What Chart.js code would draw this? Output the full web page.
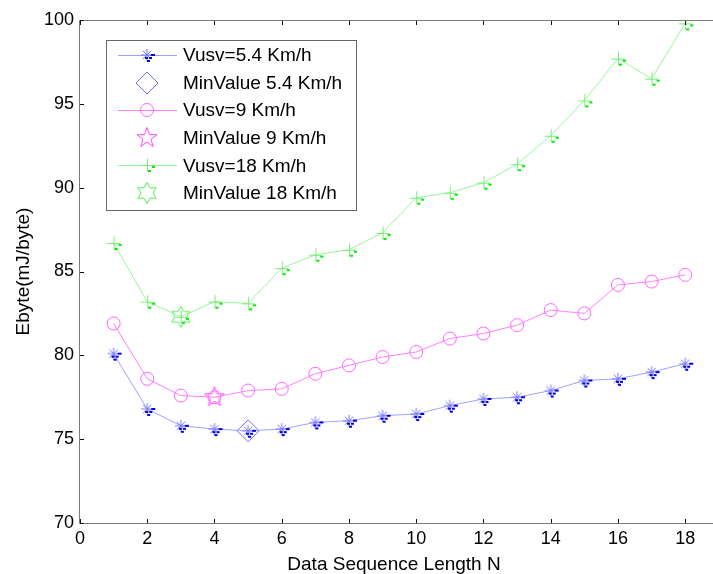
<!DOCTYPE html>
<html>
<head>
<meta charset="utf-8">
<script src="https://cdn.jsdelivr.net/npm/chart.js@4/dist/chart.umd.min.js"></script>
<style>
  html, body { margin: 0; padding: 0; background: #fff; overflow: hidden; }
  #wrap { width: 713px; height: 574px; position: relative; }
</style>
</head>
<body>
<div id="wrap"><canvas id="energyChart"></canvas></div>
<script>
// data
const seqLength = [1, 2, 3, 4, 5, 6, 7, 8, 9, 10, 11, 12, 13, 14, 15, 16, 17, 18];
const ebyte54 = [80.1, 76.8, 75.8, 75.6, 75.5, 75.6, 76.0, 76.1, 76.4, 76.5, 77.0, 77.4, 77.5, 77.9, 78.5, 78.6, 79.0, 79.5];
const ebyte9 = [81.9, 78.6, 77.6, 77.5, 77.9, 78.0, 78.9, 79.4, 79.9, 80.2, 81.0, 81.3, 81.8, 82.7, 82.5, 84.2, 84.4, 84.8];
const ebyte18 = [86.7, 83.2, 82.3, 83.2, 83.1, 85.2, 86.0, 86.3, 87.3, 89.4, 89.7, 90.3, 91.4, 93.1, 95.2, 97.7, 96.5, 99.8];
const minX = [5, 4, 3];
const minY = [75.5, 77.5, 82.3];
const seriesLabels = ["Vusv=5.4 Km/h", "MinValue 5.4 Km/h", "Vusv=9 Km/h", "MinValue 9 Km/h", "Vusv=18 Km/h", "MinValue 18 Km/h"];
const xTicks = [0, 2, 4, 6, 8, 10, 12, 14, 16, 18];
const yTicks = [70, 75, 80, 85, 90, 95, 100];

const FONT = "Arial, 'Liberation Sans', sans-serif";

// marker images (matlab style)
function markerCanvas(size, draw) {
  let c = document.createElement("canvas");
  c.width = size;
  c.height = size;
  let g = c.getContext("2d");
  draw(g, size / 2);
  return c;
}

let asteriskImg = markerCanvas(24, (g, c) => {
  g.strokeStyle = "#7777ff";
  g.lineWidth = 1;
  g.beginPath();
  for (let k = 0; k < 4; k++) {
    let a = k * Math.PI / 4;
    g.moveTo(c - 6 * Math.cos(a), c - 6 * Math.sin(a));
    g.lineTo(c + 6 * Math.cos(a), c + 6 * Math.sin(a));
  }
  g.stroke();
  g.fillStyle = "#0000e6";
  g.fillRect(c + 4, c - 1, 4, 2);
  g.fillRect(c - 2, c + 2, 3, 2);
  g.fillRect(c + 2, c + 2, 3, 2);
  g.fillRect(c, c + 5, 3, 2);
});

let plusImg = markerCanvas(24, (g, c) => {
  g.strokeStyle = "#77ee77";
  g.lineWidth = 1;
  g.beginPath();
  g.moveTo(c - 6.5, c + 0.5);
  g.lineTo(c + 6.5, c + 0.5);
  g.moveTo(c + 0.5, c - 6.5);
  g.lineTo(c + 0.5, c + 6.5);
  g.stroke();
  g.fillStyle = "#00ee00";
  g.fillRect(c + 5, c + 1, 3, 2);
  g.fillRect(c + 1, c + 5, 3, 2);
});

function starPath(g, c, n, rOut, rIn) {
  g.beginPath();
  for (let k = 0; k < n * 2; k++) {
    let r = k % 2 === 0 ? rOut : rIn;
    let a = -Math.PI / 2 + k * Math.PI / n;
    let px = c + r * Math.cos(a);
    let py = c + r * Math.sin(a);
    if (k === 0) g.moveTo(px, py);
    else g.lineTo(px, py);
  }
  g.closePath();
}

let pentaImg = markerCanvas(26, (g, c) => {
  g.strokeStyle = "#ff44ff";
  g.lineWidth = 1;
  starPath(g, c, 5, 10.5, 4.2);
  g.stroke();
});

let hexaImg = markerCanvas(26, (g, c) => {
  g.strokeStyle = "#55ee55";
  g.lineWidth = 1;
  starPath(g, c, 6, 10.5, 6);
  g.stroke();
});

function toPoints(xs, ys) {
  return xs.map((x, i) => ({ x: x, y: ys[i] }));
}

const datasets = [
  {
    label: seriesLabels[0],
    data: toPoints(seqLength, ebyte54),
    borderColor: "#a0a0ff",
    borderWidth: 1,
    pointStyle: asteriskImg,
    showLine: true,
  },
  {
    label: seriesLabels[1],
    data: toPoints([minX[0]], [minY[0]]),
    borderColor: "#6a6aff",
    borderWidth: 1,
    pointStyle: "rectRot",
    pointRadius: 11,
    pointBackgroundColor: "rgba(0,0,0,0)",
    showLine: false,
  },
  {
    label: seriesLabels[2],
    data: toPoints(seqLength, ebyte9),
    borderColor: "#ff80ff",
    borderWidth: 1,
    pointStyle: "circle",
    pointRadius: 6.5,
    pointBorderColor: "#ff66ff",
    pointBackgroundColor: "rgba(0,0,0,0)",
    showLine: true,
  },
  {
    label: seriesLabels[3],
    data: toPoints([minX[1]], [minY[1]]),
    borderColor: "#ff44ff",
    pointStyle: pentaImg,
    showLine: false,
  },
  {
    label: seriesLabels[4],
    data: toPoints(seqLength, ebyte18),
    borderColor: "#99f599",
    borderWidth: 1,
    pointStyle: plusImg,
    showLine: true,
  },
  {
    label: seriesLabels[5],
    data: toPoints([minX[2]], [minY[2]]),
    borderColor: "#55ee55",
    pointStyle: hexaImg,
    showLine: false,
  },
];

// frame, inward ticks, axis titles and the boxed legend
const matlabLook = {
  id: "matlabLook",
  afterDraw(chart) {
    let ctx = chart.ctx;
    let a = chart.chartArea;
    let xs = chart.scales.x;
    let ys = chart.scales.y;
    ctx.save();

    // the axes box runs off the right edge of the picture
    ctx.strokeStyle = "#7a7a7a";
    ctx.lineWidth = 1;
    ctx.beginPath();
    ctx.moveTo(Math.round(a.left) - 0.5, Math.round(a.top) + 0.5);
    ctx.lineTo(Math.round(a.left) - 0.5, Math.round(a.bottom) + 0.5);
    ctx.lineTo(chart.width, Math.round(a.bottom) + 0.5);
    ctx.moveTo(Math.round(a.left) - 0.5, Math.round(a.top) + 0.5);
    ctx.lineTo(chart.width, Math.round(a.top) + 0.5);
    ctx.stroke();

    ctx.strokeStyle = "#111";
    ctx.beginPath();
    xTicks.forEach((t) => {
      let px = Math.round(xs.getPixelForValue(t)) + 0.5;
      ctx.moveTo(px, a.bottom);
      ctx.lineTo(px, a.bottom - 4);
      ctx.moveTo(px, a.top + 1);
      ctx.lineTo(px, a.top + 5);
    });
    yTicks.forEach((t) => {
      let py = Math.round(ys.getPixelForValue(t)) + 0.5;
      ctx.moveTo(a.left, py);
      ctx.lineTo(a.left + 4, py);
    });
    ctx.stroke();

    // axis titles
    ctx.fillStyle = "#000";
    ctx.font = "19px " + FONT;
    ctx.textAlign = "center";
    ctx.textBaseline = "middle";
    ctx.fillText("Data Sequence Length N", 394, 565);
    ctx.save();
    ctx.translate(24, (a.top + a.bottom) / 2);
    ctx.rotate(-Math.PI / 2);
    ctx.fillText("Ebyte(mJ/byte)", 0, 0);
    ctx.restore();

    // legend
    let lx = 106.5, ly = 40.5, lw = 250, lh = 170;
    ctx.fillStyle = "#fff";
    ctx.fillRect(lx, ly, lw, lh);
    ctx.strokeStyle = "#666";
    ctx.strokeRect(lx, ly, lw, lh);
    ctx.font = "19px " + FONT;
    ctx.textAlign = "left";
    chart.data.datasets.forEach((ds, i) => {
      let ry = 55 + i * 27.6;
      if (ds.showLine) {
        ctx.strokeStyle = ds.borderColor;
        ctx.beginPath();
        ctx.moveTo(118, Math.round(ry) + 0.5);
        ctx.lineTo(177, Math.round(ry) + 0.5);
        ctx.stroke();
      }
      ctx.strokeStyle = ds.pointBorderColor || ds.borderColor;
      ctx.fillStyle = "rgba(0,0,0,0)";
      ctx.lineWidth = 1;
      Chart.helpers.drawPoint(ctx, {
        pointStyle: ds.pointStyle,
        radius: ds.pointRadius || 6,
        borderWidth: 1,
        rotation: 0,
      }, 147, Math.round(ry));
      ctx.fillStyle = "#000";
      ctx.fillText(ds.label, 183, ry + 1);
    });

    ctx.restore();
  },
};

let ctx = document.getElementById("energyChart").getContext("2d");
new Chart(ctx, {
  type: "line",
  data: { datasets: datasets },
  options: {
    responsive: true,
    maintainAspectRatio: false,
    animation: false,
    layout: { padding: { top: 20, right: 0, left: 0, bottom: 0 } },
    elements: { line: { tension: 0 }, point: { radius: 6, borderWidth: 1 } },
    plugins: { legend: { display: false }, tooltip: { enabled: false } },
    scales: {
      x: {
        type: "linear",
        bounds: "data",
        min: 0,
        max: 18.47,
        afterFit: (s) => { s.height = 51; },
        grid: { display: false, drawTicks: false },
        border: { display: false },
        ticks: {
          stepSize: 2,
          includeBounds: false,
          autoSkip: false,
          maxRotation: 0,
          padding: 5,
          color: "#000",
          font: { family: FONT, size: 18 },
        },
      },
      y: {
        min: 70,
        max: 100,
        afterFit: (s) => { s.width = 80; },
        grid: { display: false, drawTicks: false },
        border: { display: false },
        ticks: {
          stepSize: 5,
          padding: 6,
          color: "#000",
          font: { family: FONT, size: 18 },
        },
      },
    },
  },
  plugins: [matlabLook],
});
</script>
</body>
</html>
